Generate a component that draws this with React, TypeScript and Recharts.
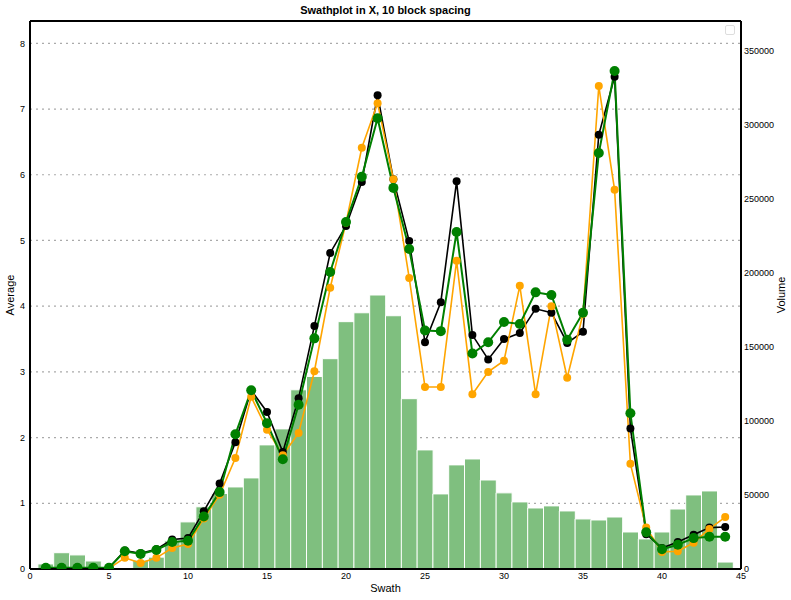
import React from "react";
import {
  ComposedChart,
  Bar,
  Line,
  XAxis,
  YAxis,
  CartesianGrid,
  ReferenceLine,
} from "recharts";

const swaths = [
  1, 2, 3, 4, 5, 6, 7, 8, 9, 10, 11, 12, 13, 14, 15, 16, 17, 18, 19, 20, 21, 22,
  23, 24, 25, 26, 27, 28, 29, 30, 31, 32, 33, 34, 35, 36, 37, 38, 39, 40, 41, 42,
  43, 44,
];

const volume = [
  3400, 11000, 9500, 5400, 0, 0, 6000, 8000, 19000, 31800, 42000, 51000, 55400,
  61500, 83800, 94600, 121000, 130000, 142000, 167000, 173000, 185000, 171000,
  115000, 80400, 50700, 70300, 74300, 60100, 51400, 45300, 41200, 42600, 39200,
  33800, 33100, 35100, 25000, 20300, 25000, 40500, 50000, 52700, 4700,
];

const blackAvg = [
  0.02, 0.02, 0.02, 0.02, 0.02, 0.28, 0.24, 0.3, 0.45, 0.47, 0.88, 1.3, 1.93,
  2.72, 2.39, 1.78, 2.6, 3.7, 4.81, 5.22, 5.89, 7.21, 5.93, 4.99, 3.45, 4.06,
  5.9, 3.56, 3.19, 3.5, 3.59, 3.96, 3.9, 3.44, 3.61, 6.61, 7.49, 2.14, 0.53,
  0.32, 0.41, 0.52, 0.63, 0.64,
];

const orangeAvg = [
  0.01, 0.01, 0.01, 0.01, 0.01, 0.17, 0.09, 0.17, 0.32, 0.38, 0.77, 1.13, 1.69,
  2.62, 2.12, 1.73, 2.07, 3.01, 4.28, 5.27, 6.41, 7.09, 5.93, 4.43, 2.77, 2.77,
  4.69, 2.66, 3.0, 3.17, 4.31, 2.66, 4.0, 2.91, 3.88, 7.35, 5.77, 1.6, 0.63,
  0.26, 0.27, 0.4, 0.61, 0.79,
];

const greenAvg = [
  0.02, 0.02, 0.02, 0.02, 0.02, 0.27, 0.23, 0.29, 0.41, 0.43, 0.8, 1.17, 2.05,
  2.72, 2.22, 1.67, 2.5, 3.51, 4.52, 5.28, 5.97, 6.86, 5.8, 4.87, 3.63, 3.62,
  5.13, 3.28, 3.45, 3.76, 3.73, 4.21, 4.17, 3.49, 3.9, 6.33, 7.58, 2.37, 0.56,
  0.3, 0.37, 0.47, 0.49, 0.49,
];

const xTicks = [0, 5, 10, 15, 20, 25, 30, 35, 40, 45];
const leftTicks = [0, 1, 2, 3, 4, 5, 6, 7, 8];
const rightTicks = [0, 50000, 100000, 150000, 200000, 250000, 300000, 350000];

const data = swaths.map((s, i) => ({
  swath: s,
  volume: volume[i],
  black: blackAvg[i],
  orange: orangeAvg[i],
  green: greenAvg[i],
}));

const FONT = "'Liberation Sans', Arial, sans-serif";
const tickStyle = { fontSize: 9, fill: "#000", fontFamily: FONT };

export default function App() {
  return (
    <div
      style={{
        position: "absolute",
        left: 0,
        top: 0,
        width: 791,
        height: 600,
        background: "#fff",
        fontFamily: FONT,
      }}
    >
      <ComposedChart
        width={791}
        height={600}
        data={data}
        margin={{ top: 21, right: 0, bottom: 0, left: 0 }}
        barCategoryGap={0}
        barGap={0}
      >
        <CartesianGrid
          yAxisId="left"
          vertical={false}
          stroke="#aaa"
          strokeDasharray="2 4"
          strokeWidth={1.2}
        />
        <XAxis
          dataKey="swath"
          type="number"
          domain={[0, 45]}
          ticks={xTicks}
          height={31}
          tick={tickStyle}
          tickLine={false}
          tickSize={0}
          tickMargin={4}
          axisLine={{ stroke: "#000", strokeWidth: 2 }}
          allowDataOverflow
        />
        <YAxis
          yAxisId="left"
          orientation="left"
          domain={[0, 8.34]}
          ticks={leftTicks}
          width={30}
          tick={tickStyle}
          tickLine={false}
          tickSize={0}
          tickMargin={5}
          axisLine={{ stroke: "#000", strokeWidth: 2 }}
          allowDataOverflow
        />
        <YAxis
          yAxisId="right"
          orientation="right"
          domain={[0, 370000]}
          ticks={rightTicks}
          width={50}
          tick={tickStyle}
          tickLine={false}
          tickSize={0}
          tickMargin={3}
          axisLine={{ stroke: "#000", strokeWidth: 2 }}
          allowDataOverflow
        />
        <ReferenceLine
          yAxisId="left"
          y={8.34}
          stroke="#000"
          strokeWidth={2}
        />
        <Bar
          yAxisId="right"
          dataKey="volume"
          fill="#7fbf7f"
          stroke="#fff"
          strokeWidth={1}
          isAnimationActive={false}
        />
        <Line
          yAxisId="left"
          type="linear"
          dataKey="black"
          stroke="#000"
          strokeWidth={1.6}
          dot={{ r: 4, fill: "#000", stroke: "none" }}
          activeDot={false}
          isAnimationActive={false}
        />
        <Line
          yAxisId="left"
          type="linear"
          dataKey="orange"
          stroke="#ffa500"
          strokeWidth={1.6}
          dot={{ r: 4, fill: "#ffa500", stroke: "none" }}
          activeDot={false}
          isAnimationActive={false}
        />
        <Line
          yAxisId="left"
          type="linear"
          dataKey="green"
          stroke="#008000"
          strokeWidth={2}
          dot={{ r: 5, fill: "#008000", stroke: "none" }}
          activeDot={false}
          isAnimationActive={false}
        />
      </ComposedChart>

      <div
        style={{
          position: "absolute",
          left: 30,
          width: 711,
          top: 4,
          textAlign: "center",
          fontSize: 11,
          fontWeight: "bold",
        }}
      >
        Swathplot in X, 10 block spacing
      </div>
      <div
        style={{
          position: "absolute",
          left: 30,
          width: 711,
          top: 582,
          textAlign: "center",
          fontSize: 11,
        }}
      >
        Swath
      </div>
      <div
        style={{
          position: "absolute",
          left: 10,
          top: 295,
          fontSize: 11,
          transform: "translate(-50%, -50%) rotate(-90deg)",
          whiteSpace: "nowrap",
        }}
      >
        Average
      </div>
      <div
        style={{
          position: "absolute",
          left: 781,
          top: 295,
          fontSize: 11,
          transform: "translate(-50%, -50%) rotate(-90deg)",
          whiteSpace: "nowrap",
        }}
      >
        Volume
      </div>
      <div
        style={{
          position: "absolute",
          left: 725,
          top: 25,
          width: 8,
          height: 8,
          border: "1px solid #ddd",
          borderRadius: 2,
          background: "#fff",
        }}
      />
    </div>
  );
}
